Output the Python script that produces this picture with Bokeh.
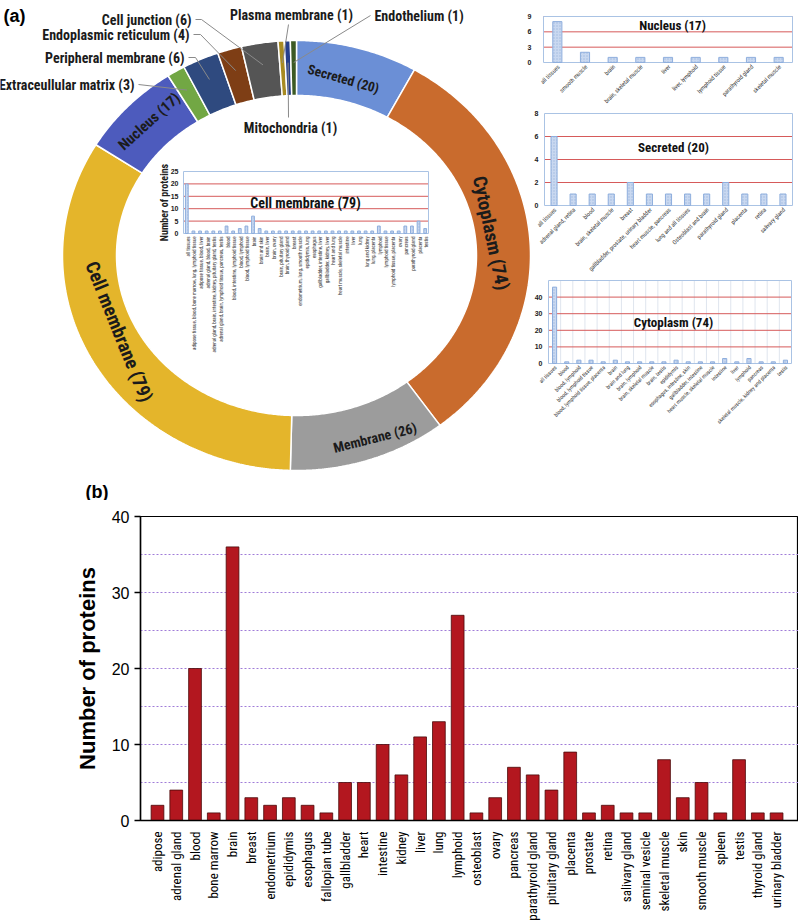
import numpy as np
from math import pi
from bokeh.plotting import figure
from bokeh.models import Range1d, FixedTicker
from bokeh.layouts import column
from bokeh.core.properties import value
from bokeh.embed import file_html
from bokeh.resources import INLINE

# ---------------- data ----------------
loc_names = ["Secreted", "Cytoplasm", "Membrane", "Cell membrane", "Nucleus",
             "Extraceullular matrix", "Peripheral membrane", "Endoplasmic reticulum",
             "Cell junction", "Plasma membrane", "Mitochondria", "Endothelium"]
loc_counts = [20, 74, 26, 79, 17, 3, 6, 4, 6, 1, 1, 1]
loc_colors = ["#6b8fd6", "#c96b2d", "#9c9c9c", "#e4b52b", "#4d5bbd", "#72a744",
              "#2f4a7f", "#7e3e15", "#555555", "#a88b22", "#263f8c", "#3c5a24"]

nuc_labels = ["all tissues", "smooth muscle", "brain", "brain, skeletal muscle", "liver",
              "liver, lymphoid", "lymphoid tissue", "parathyroid gland", "skeletal muscle"]
nuc_values = [8, 2, 1, 1, 1, 1, 1, 1, 1]

sec_labels = ["all tissues", "adrenal gland, retina", "blood", "brain, skeletal muscle", "breast",
              "gallbladder, prostate, urinary bladder", "heart muscle, pancreas",
              "lung and all tissues", "Osteoblast and brain", "parathyroid gland",
              "placenta", "retina", "salivary gland"]
sec_values = [6, 1, 1, 1, 2, 1, 1, 1, 1, 2, 1, 1, 1]

cyt_labels = ["all tissues", "blood", "blood, lymphoid", "blood, lymphoid tissue",
              "blood, lymphoid tissue, placenta", "brain", "brain and lung", "brain, lymphoid",
              "brain, skeletal muscle", "brain, testis", "epididymis", "esophagus, intestine, skin",
              "gallbladder, intestine", "heart muscle, skeletal muscle", "intestine", "liver",
              "lymphoid", "pancreas", "skeletal muscle, kidney and placenta", "testis"]
cyt_values = [46, 1, 2, 2, 1, 2, 1, 1, 1, 1, 2, 1, 1, 1, 3, 1, 3, 1, 1, 2]

cm_labels = ["all tissues", "adipose tissue, blood, bone marrow, lung, lymphoid tissue",
             "adipose tissue, blood, liver", "adrenal gland, blood, brain",
             "adrenal gland, brain, intestine, kidney, pituitary gland, testis",
             "adrenal gland, brain, lymphoid tissue, pancreas, testis", "blood",
             "blood, intestine, lymphoid tissue", "blood, lymphoid", "blood, lymphoid tissue",
             "brain", "brain and skin", "brain, liver", "brain, ovary", "brain, pituitary gland",
             "brain, thyroid gland", "breast", "endometrium, lung, smooth muscle",
             "epididymis, lung", "esophagus", "gallbladder, intestine, liver",
             "gallbladder, kidney, liver", "heart and lung", "heart muscle, skeletal muscle",
             "intestine", "liver", "lung", "lung and kidney", "lung, placenta", "lymphoid",
             "lymphoid tissue", "lymphoid tissue, placenta", "ovary", "pancreas",
             "parathyroid gland", "placenta", "testis"]
cm_values = [20, 1, 1, 1, 1, 1, 3, 1, 2, 3, 7, 2, 1, 1, 1, 1, 1, 1, 1, 1, 1, 1, 1, 1, 1,
             1, 1, 1, 1, 3, 1, 1, 1, 3, 3, 5, 2]

tissues = ["adipose", "adrenal gland", "blood", "bone marrow", "brain", "breast", "endometrium",
           "epididymis", "esophagus", "fallopian tube", "gallbladder", "heart", "intestine",
           "kidney", "liver", "lung", "lymphoid", "osteoblast", "ovary", "pancreas",
           "parathyroid gland", "pituitary gland", "placenta", "prostate", "retina",
           "salivary gland", "seminal vesicle", "skeletal muscle", "skin", "smooth muscle",
           "spleen", "testis", "thyroid gland", "urinary bladder"]
tissue_counts = [2, 4, 20, 1, 36, 3, 2, 3, 2, 1, 5, 5, 10, 6, 11, 13, 27, 1, 3, 7,
                 6, 4, 9, 1, 2, 1, 1, 8, 3, 5, 1, 8, 1, 1]

# ---------------- styles ----------------
NARROW = "Roboto Condensed, Liberation Sans, sans-serif"
SANS = "Liberation Sans, sans-serif"
X0 = Y0 = 0
TW, TH = 798, 500

# ---------------- top panel (a) ----------------
top = figure(width=TW, height=TH, x_range=Range1d(X0, X0 + TW), y_range=Range1d(Y0 + TH, Y0),
             x_axis_location=None, y_axis_location=None, output_backend="svg",
             toolbar_location=None, min_border=0, outline_line_color=None)
top.grid.visible = False

cx, cy = 296, 255
rxo, ryo, rxi, ryi = 234, 215, 180, 160
cnt = np.array(loc_counts, dtype=float)
ends = np.cumsum(cnt) / cnt.sum() * 2 * pi
starts = ends - cnt / cnt.sum() * 2 * pi
mids = (starts + ends) / 2

xs, ys = [], []
for a0, a1 in zip(starts, ends):
    t = np.linspace(a0, a1, max(4, int((a1 - a0) * 120)))
    ox, oy = cx + rxo * np.sin(t), cy - ryo * np.cos(t)
    ix, iy = cx + rxi * np.sin(t[::-1]), cy - ryi * np.cos(t[::-1])
    xs.append(np.concatenate([ox, ix]).tolist())
    ys.append(np.concatenate([oy, iy]).tolist())
top.patches(xs, ys, fill_color=loc_colors, line_color="white", line_width=1.5)

def ring_pt(i, f):
    rx = rxi + (rxo - rxi) * f
    ry = ryi + (ryo - ryi) * f
    return cx + rx * np.sin(mids[i]), cy - ry * np.cos(mids[i])

# labels inside ring (5 largest): angle (deg), font size, nudge (dx, dy)
ring_style = [(-16, "13.5px", (-7, 4)), (-78, "19px", (-12, -10)), (14, "14px", (14, 4)),
              (-68, "19px", (4, -14)), (42, "15px", (2, -4))]
for i, (ang, fs, (dx, dy)) in enumerate(ring_style):
    px, py = ring_pt(i, 0.5)
    top.text(x=[px + dx], y=[py + dy], text=[f"{loc_names[i]} ({loc_counts[i]})"],
             angle=ang * pi / 180, text_align="center", text_baseline="middle",
             text_font=value(NARROW), text_font_style="bold", text_font_size=fs,
             text_color="#1b1b1b")

# outer labels with leaders: (index, text x, text y, align, leader start points)
outer = [
    (8, 191, 19, "right", [(195, 19), (201, 19)]),
    (9, 291, 14, "center", [(288, 24)]),
    (11, 374, 15, "left", [(370, 15)]),
    (7, 189, 34, "right", [(193, 34), (200, 34)]),
    (6, 184, 57, "right", [(188, 57), (195, 57)]),
    (5, 134, 84, "right", [(138, 84)]),
    (10, 290, 127, "center", [(288, 117)]),
]
lx, ly = [], []
for i, tx, ty, al, pts in outer:
    top.text(x=[tx], y=[ty], text=[f"{loc_names[i]} ({loc_counts[i]})"], text_align=al,
             text_baseline="middle", text_font=value(NARROW), text_font_style="bold",
             text_font_size="14px", text_color="#1b1b1b")
    ex, ey = ring_pt(i, 0.6)
    lx.append([p[0] for p in pts] + [ex])
    ly.append([p[1] for p in pts] + [ey])
top.multi_line(lx, ly, line_color="#8a8a8a", line_width=1)

top.text(x=[3, 85], y=[15, 491], text=["(a)", "(b)"], text_align="left", text_baseline="middle",
         text_font=value(SANS), text_font_style="bold", text_font_size="18px", text_color="black")

# insets drawn through their own ranges
def inset(key, frame, labels, values, ymax, yticks, grid_ticks, lab_angle, lab_size,
          tick_off, title, title_xy, title_size, vgrid=False, bar_w=0.36):
    x0p, x1p, y0p, y1p = frame
    n = len(labels)
    sx = (x1p - x0p) / n
    xa = -0.5 - (x0p - X0) / sx
    sy = (y1p - y0p) / ymax
    ya = -(Y0 + TH - y1p) / sy
    top.extra_x_ranges = {**top.extra_x_ranges, key: Range1d(xa, xa + TW / sx)}
    top.extra_y_ranges = {**top.extra_y_ranges, key: Range1d(ya, ya + TH / sy)}
    kw = dict(x_range_name=key, y_range_name=key)
    idx = list(range(n))
    if vgrid:
        vx = [i + 0.5 for i in range(n - 1)]
        top.segment(x0=vx, y0=[0] * len(vx), x1=vx, y1=[ymax] * len(vx),
                    line_color="#dfe5ee", line_width=1, **kw)
    top.segment(x0=[-0.5] * len(grid_ticks), y0=grid_ticks, x1=[n - 0.5] * len(grid_ticks),
                y1=grid_ticks, line_color="#d65a5a", line_width=1, **kw)
    top.quad(left=[-0.5], right=[n - 0.5], bottom=[0], top=[ymax], fill_color=None,
             line_color="#aac3e4", line_width=1, **kw)
    top.vbar(x=idx, top=values, width=bar_w, bottom=0, fill_color="#c9d8f0",
             line_color="#8eaedd", line_width=1, hatch_pattern=".", hatch_color="#9fb8de",
             hatch_scale=3, **kw)
    top.text(x=[-0.5] * len(yticks), y=yticks, text=[str(t) for t in yticks], x_offset=-tick_off,
             text_align="right", text_baseline="middle", text_font=value(SANS),
             text_font_style="bold", text_font_size="7px", text_color="#222222", **kw)
    top.text(x=idx, y=[0] * n, text=labels, angle=lab_angle, y_offset=3, x_offset=1,
             text_align="right", text_baseline="middle", text_font=value(NARROW),
             text_font_size=lab_size, text_color="#333333", **kw)
    top.text(x=[title_xy[0]], y=[title_xy[1]], text=[title], text_align="center",
             text_baseline="middle", text_font=value(NARROW), text_font_style="bold",
             text_font_size=title_size, text_color="#111111")

inset("cm", (183, 428, 171, 233), cm_labels, cm_values, 25, [0, 5, 10, 15, 20, 25],
      [5, 10, 15, 20], pi / 2, "5px", 5, "Cell membrane (79)", (305, 202), "14px", bar_w=0.42)
inset("nuc", (543, 792, 16, 62), nuc_labels, nuc_values, 9, [0, 3, 6, 9], [3, 6, 9],
      pi / 4, "6px", 12, "Nucleus (17)", (672, 25), "13px", bar_w=0.33)
inset("sec", (544, 792, 113, 205), sec_labels, sec_values, 8, [0, 2, 4, 6, 8], [2, 4, 6],
      pi / 4, "6px", 6, "Secreted (20)", (673, 147), "13px", bar_w=0.32)
inset("cyt", (548, 791, 280, 363), cyt_labels, cyt_values, 50, [0, 10, 20, 30, 40],
      [10, 20, 30, 40], pi / 4, "5.5px", 6, "Cytoplasm (74)", (673, 322), "13px",
      vgrid=True, bar_w=0.34)

# y-axis title of the Cell membrane inset
top.text(x=[-0.5], y=[12.5], text=["Number of proteins"], x_offset=-19, angle=pi / 2,
         text_align="center", text_baseline="middle", text_font=value(NARROW),
         text_font_style="bold", text_font_size="10px", text_color="#222222",
         x_range_name="cm", y_range_name="cm")

# ---------------- bottom panel (b) ----------------
BW, BH = 798, 424
px_per_cat = 18.76
xstart = -0.906
bot = figure(width=BW, height=BH, x_range=Range1d(xstart, xstart + (BW - 140) / px_per_cat),
             y_range=Range1d(0, 40), output_backend="svg", toolbar_location=None,
             min_border_left=140, min_border_right=0, min_border_top=16, min_border_bottom=104,
             outline_line_color="black", outline_line_width=1.2)
bot.vbar(x=list(range(len(tissues))), top=tissue_counts, width=0.68, fill_color="#b3171f",
         line_color="#4a0a0a", line_width=0.8)

bot.xgrid.visible = False
bot.ygrid.ticker = FixedTicker(ticks=[5, 10, 15, 20, 25, 30, 35])
bot.ygrid.grid_line_color = "#a07cd8"
bot.ygrid.grid_line_dash = "2 2"
bot.ygrid.grid_line_width = 1

bot.yaxis.ticker = FixedTicker(ticks=[0, 10, 20, 30, 40])
bot.yaxis.axis_label = "Number of proteins"
bot.yaxis.axis_label_text_font = SANS
bot.yaxis.axis_label_text_font_style = "bold"
bot.yaxis.axis_label_text_font_size = "22px"
bot.yaxis.axis_label_text_color = "black"
bot.yaxis.axis_label_standoff = 9
bot.yaxis.major_label_text_font = SANS
bot.yaxis.major_label_text_font_size = "16px"
bot.yaxis.major_label_text_color = "black"
bot.yaxis.major_tick_in = 0
bot.yaxis.major_tick_out = 6
bot.yaxis.minor_tick_line_color = None
bot.yaxis.axis_line_width = 1.5
bot.yaxis.major_tick_line_width = 1.5

bot.xaxis.ticker = FixedTicker(ticks=list(range(len(tissues))))
bot.xaxis.major_label_overrides = {i: t for i, t in enumerate(tissues)}
bot.xaxis.major_label_orientation = pi / 2
bot.xaxis.major_label_text_font = NARROW
bot.xaxis.major_label_text_font_size = "13px"
bot.xaxis.major_label_text_color = "black"
bot.xaxis.major_tick_line_color = None
bot.xaxis.minor_tick_line_color = None
bot.xaxis.major_label_standoff = 5
bot.xaxis.axis_line_width = 1.5

for fig in (top, bot):
    if "frame_align" in fig.properties():
        fig.frame_align = False

layout = column(top, bot, spacing=0)
open("out.html", "w").write(file_html(layout, INLINE))
